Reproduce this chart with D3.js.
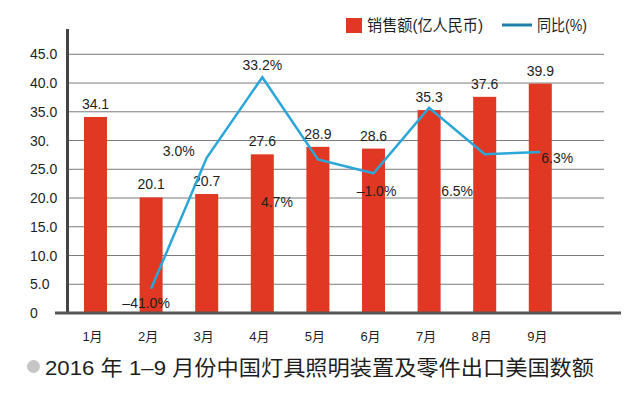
<!DOCTYPE html>
<html lang="zh">
<head>
<meta charset="UTF-8">
<title>2016年1-9月份中国灯具照明装置及零件出口美国数额</title>
<script src="https://d3js.org/d3.v7.min.js"></script>
<style>
  body { margin: 0; background: #fff; }
  text { font-family: "Liberation Sans", Arial, "Noto Sans CJK SC", sans-serif; fill: #1e1e1e; }
</style>
</head>
<body>
<svg id="chart" width="640" height="393"></svg>
<script>
// 数据
const months = ["1月", "2月", "3月", "4月", "5月", "6月", "7月", "8月", "9月"];
const sales = [34.1, 20.1, 20.7, 27.6, 28.9, 28.6, 35.3, 37.6, 39.9];
// 同比折线在图中的位置（按左轴读数，1月无点）
const yoyLine = [null, 4.2, 27.0, 41.0, 26.7, 24.3, 35.7, 27.6, 28.0];
const yoyLabels = [null, "–41.0%", "3.0%", "33.2%", "4.7%", "–1.0%", "6.5%", null, "6.3%"];
const yTicks = [0, 5, 10, 15, 20, 25, 30, 35, 40, 45];
const yTickLabels = ["0", "5.0", "10.0", "15.0", "20.0", "25.0", "30.", "35.0", "40.0", "45.0"];

// 百分比标签相对折线点的偏移（像素）
const labelOffsets = [null, [-5, 14], [-28, -7], [0, -12], [-41, 42], [3, 18], [28, 83], null, [17, 6]];

const svg = d3.select("#chart");
const barColor = "#e03822";
const lineColor = "#2ba6d8";

const x = d3.scaleBand()
  .domain(months)
  .range([67.7, 568.1])
  .paddingInner(0.586)
  .paddingOuter(0.293);

const y = d3.scaleLinear()
  .domain([0, 45])
  .range([313, 54.3]);

// 网格线
svg.append("g")
  .selectAll("line")
  .data(yTicks.filter(d => d > 0))
  .join("line")
  .attr("x1", 67).attr("x2", 604)
  .attr("y1", d => y(d)).attr("y2", d => y(d))
  .attr("stroke", "#7a7a7a")
  .attr("stroke-width", 1);

// y 轴刻度文字（左对齐）
svg.append("g")
  .selectAll("text")
  .data(yTicks)
  .join("text")
  .attr("x", 30)
  .attr("y", d => y(d) + 5)
  .attr("font-size", 14)
  .text((d, i) => yTickLabels[i]);

// 柱子
svg.append("g")
  .selectAll("rect")
  .data(sales)
  .join("rect")
  .attr("x", (d, i) => x(months[i]))
  .attr("y", d => y(d))
  .attr("width", x.bandwidth())
  .attr("height", d => y(0) - y(d))
  .attr("fill", barColor);

// 柱顶数值
svg.append("g")
  .selectAll("text")
  .data(sales)
  .join("text")
  .attr("x", (d, i) => x(months[i]) + x.bandwidth() / 2)
  .attr("y", d => y(d) - 8)
  .attr("text-anchor", "middle")
  .attr("font-size", 14)
  .text(d => d.toFixed(1));

// 坐标轴
svg.append("line")
  .attr("x1", 67.5).attr("x2", 67.5)
  .attr("y1", 29).attr("y2", y(0))
  .attr("stroke", "#444").attr("stroke-width", 3);
svg.append("line")
  .attr("x1", 55).attr("x2", 621)
  .attr("y1", y(0)).attr("y2", y(0))
  .attr("stroke", "#555").attr("stroke-width", 3);

// 月份
svg.append("g")
  .selectAll("text")
  .data(months)
  .join("text")
  .attr("x", d => x(d) + x.bandwidth() / 2 - 3)
  .attr("y", 341)
  .attr("text-anchor", "middle")
  .attr("font-size", 13)
  .text(d => d);

// 同比折线
const cx = i => x(months[i]) + x.bandwidth() / 2;
const line = d3.line()
  .defined(d => d != null)
  .x((d, i) => cx(i))
  .y(d => y(d));

svg.append("path")
  .datum(yoyLine)
  .attr("d", line)
  .attr("fill", "none")
  .attr("stroke", lineColor)
  .attr("stroke-width", 2.5)
  .attr("stroke-linejoin", "miter");

// 百分比标签
svg.append("g")
  .selectAll("text")
  .data(yoyLabels.map((t, i) => ({ t, i })).filter(d => d.t))
  .join("text")
  .attr("x", d => cx(d.i) + labelOffsets[d.i][0])
  .attr("y", d => y(yoyLine[d.i]) + labelOffsets[d.i][1] + 5)
  .attr("text-anchor", "middle")
  .attr("font-size", 14)
  .text(d => d.t);

// 图例
svg.append("rect")
  .attr("x", 346).attr("y", 18)
  .attr("width", 16).attr("height", 15)
  .attr("fill", barColor);
svg.append("text")
  .attr("x", 367).attr("y", 31)
  .attr("font-size", 16)
  .attr("textLength", 116)
  .attr("lengthAdjust", "spacingAndGlyphs")
  .text("销售额(亿人民币)");
svg.append("line")
  .attr("x1", 502).attr("x2", 532)
  .attr("y1", 25).attr("y2", 25)
  .attr("stroke", "#1f7fa8").attr("stroke-width", 3);
svg.append("text")
  .attr("x", 537).attr("y", 31)
  .attr("font-size", 16)
  .attr("textLength", 50)
  .attr("lengthAdjust", "spacingAndGlyphs")
  .text("同比(%)");

// 标题
svg.append("circle")
  .attr("cx", 33.5).attr("cy", 366.5).attr("r", 6.5)
  .attr("fill", "#c6c6c6");
svg.append("text")
  .attr("x", 45).attr("y", 375)
  .attr("font-size", 21)
  .attr("textLength", 549)
  .attr("lengthAdjust", "spacingAndGlyphs")
  .text("2016 年 1–9 月份中国灯具照明装置及零件出口美国数额");
</script>
</body>
</html>
